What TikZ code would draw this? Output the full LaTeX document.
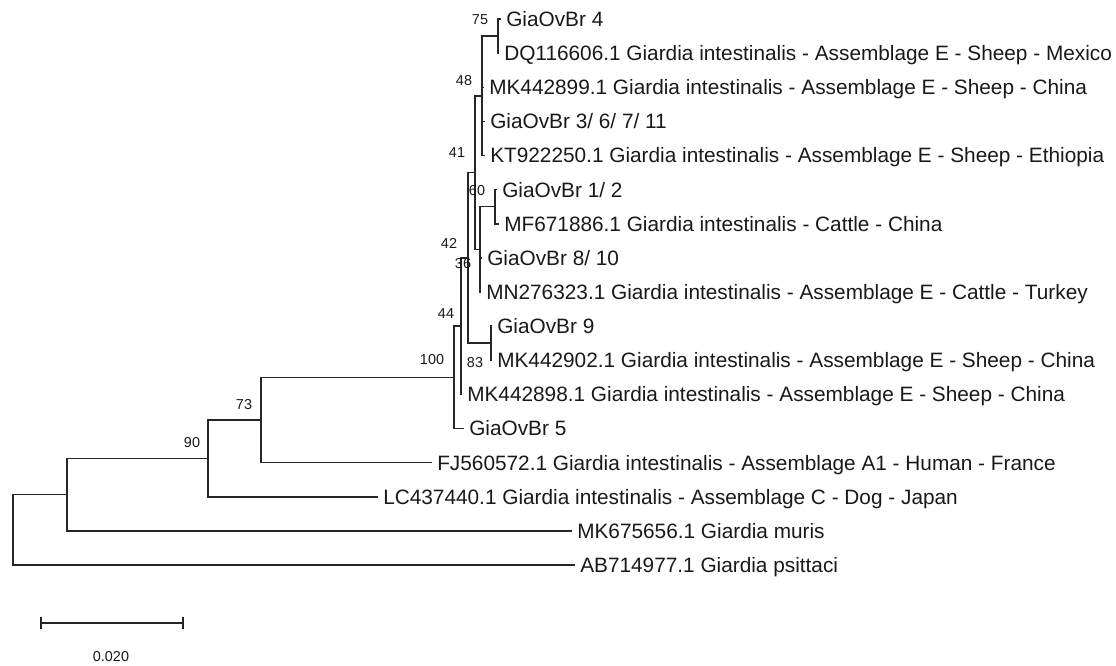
\documentclass[tikz,border=0pt]{standalone}
\usepackage{fontspec}
\setmainfont{Liberation Sans}
\begin{document}
\begin{tikzpicture}[x=0.75pt,y=-0.75pt,
  branch/.style={line width=1.1pt, draw=black!85},
  leaf/.style={anchor=base west, inner sep=0pt, xshift=3.75pt, yshift=-5.6pt,
    text=black!90, font=\fontsize{15.6pt}{18pt}\selectfont},
  boot/.style={inner sep=0pt, text=black!90, font=\fontsize{10.8pt}{12pt}\selectfont}]
\useasboundingbox (0,0) rectangle (1116,666);
% internal nodes
\coordinate (root) at (13,529.8);
\coordinate (nM)   at (67,494.6);
\coordinate (n90)  at (208,458.4);
\coordinate (n73)  at (261,420);
\coordinate (n100) at (454,377.3);
\coordinate (n44)  at (461,326.1);
\coordinate (n42)  at (468,257.9);
\coordinate (n41)  at (475,172.6);
\coordinate (n36)  at (480,249.4);
\coordinate (n48)  at (482,95.8);
\coordinate (n75)  at (498,36);
\coordinate (n60)  at (495,206.7);
\coordinate (n83)  at (491,343.2);
% leaf ends
\coordinate (l1)  at (501,19);
\coordinate (l2)  at (499,53.1);
\coordinate (l3)  at (484,87.3);
\coordinate (l4)  at (485,121.4);
\coordinate (l5)  at (485,155.5);
\coordinate (l6)  at (497,189.6);
\coordinate (l7)  at (499,223.8);
\coordinate (l8)  at (482,257.9);
\coordinate (l9)  at (481,292);
\coordinate (l10) at (492,326.1);
\coordinate (l11) at (492,360.3);
\coordinate (l12) at (462,394.4);
\coordinate (l13) at (464,428.5);
\coordinate (l14) at (432,462.6);
\coordinate (l15) at (378,496.8);
\coordinate (l16) at (572,530.9);
\coordinate (l17) at (575,565);
% branches
\draw[branch] (root) |- (nM);  \draw[branch] (root) |- (l17);
\draw[branch] (nM) |- (n90);   \draw[branch] (nM) |- (l16);
\draw[branch] (n90) |- (n73);  \draw[branch] (n90) |- (l15);
\draw[branch] (n73) |- (n100); \draw[branch] (n73) |- (l14);
\draw[branch] (n100) |- (n44); \draw[branch] (n100) |- (l13);
\draw[branch] (n44) |- (n42);  \draw[branch] (n44) |- (l12);
\draw[branch] (n42) |- (n41);  \draw[branch] (n42) |- (n83);
\draw[branch] (n83) |- (l10);  \draw[branch] (n83) |- (l11);
\draw[branch] (n41) |- (n48);  \draw[branch] (n41) |- (n36);
\draw[branch] (n36) |- (n60);  \draw[branch] (n36) |- (l8);  \draw[branch] (n36) |- (l9);
\draw[branch] (n60) |- (l6);   \draw[branch] (n60) |- (l7);
\draw[branch] (n48) |- (n75);  \draw[branch] (n48) |- (l3);  \draw[branch] (n48) |- (l4);  \draw[branch] (n48) |- (l5);
\draw[branch] (n75) |- (l1);   \draw[branch] (n75) |- (l2);
% leaf labels
\node[leaf] (t1)  at (l1)  {GiaOvBr 4};
\node[leaf] (t2)  at (l2)  {DQ116606.1 Giardia intestinalis - Assemblage E - Sheep - Mexico};
\node[leaf] (t3)  at (l3)  {MK442899.1 Giardia intestinalis - Assemblage E - Sheep - China};
\node[leaf] (t4)  at (l4)  {GiaOvBr 3/ 6/ 7/ 11};
\node[leaf] (t5)  at (l5)  {KT922250.1 Giardia intestinalis - Assemblage E - Sheep - Ethiopia};
\node[leaf] (t6)  at (l6)  {GiaOvBr 1/ 2};
\node[leaf] (t7)  at (l7)  {MF671886.1 Giardia intestinalis - Cattle - China};
\node[leaf] (t8)  at (l8)  {GiaOvBr 8/ 10};
\node[leaf] (t9)  at (l9)  {MN276323.1 Giardia intestinalis - Assemblage E - Cattle - Turkey};
\node[leaf] (t10) at (l10) {GiaOvBr 9};
\node[leaf] (t11) at (l11) {MK442902.1 Giardia intestinalis - Assemblage E - Sheep - China};
\node[leaf] (t12) at (l12) {MK442898.1 Giardia intestinalis - Assemblage E - Sheep - China};
\node[leaf] (t13) at (l13) {GiaOvBr 5};
\node[leaf] (t14) at (l14) {FJ560572.1 Giardia intestinalis - Assemblage A1 - Human - France};
\node[leaf] (t15) at (l15) {LC437440.1 Giardia intestinalis - Assemblage C - Dog - Japan};
\node[leaf] (t16) at (l16) {MK675656.1 Giardia muris};
\node[leaf] (t17) at (l17) {AB714977.1 Giardia psittaci};
% bootstrap values
\node[boot] (b75)  at (480,20)  {75};
\node[boot] (b48)  at (464,81)  {48};
\node[boot] (b41)  at (457,153) {41};
\node[boot] (b60)  at (477,191) {60};
\node[boot] (b42)  at (449,243) {42};
\node[boot] (b36)  at (463,264) {36};
\node[boot] (b44)  at (446,314) {44};
\node[boot] (b100) at (432,360) {100};
\node[boot] (b83)  at (475,363) {83};
\node[boot] (b73)  at (244,405) {73};
\node[boot] (b90)  at (192,443) {90};
% scale bar
\coordinate (sb1) at (41,623);
\coordinate (sb2) at (183,623);
\draw[branch] (sb1) -- (sb2);
\draw[branch] (41,617) -- (41,629);
\draw[branch] (183,617) -- (183,629);
\node[boot] (sbl) at (111,657) {0.020};
\end{tikzpicture}
\end{document}
